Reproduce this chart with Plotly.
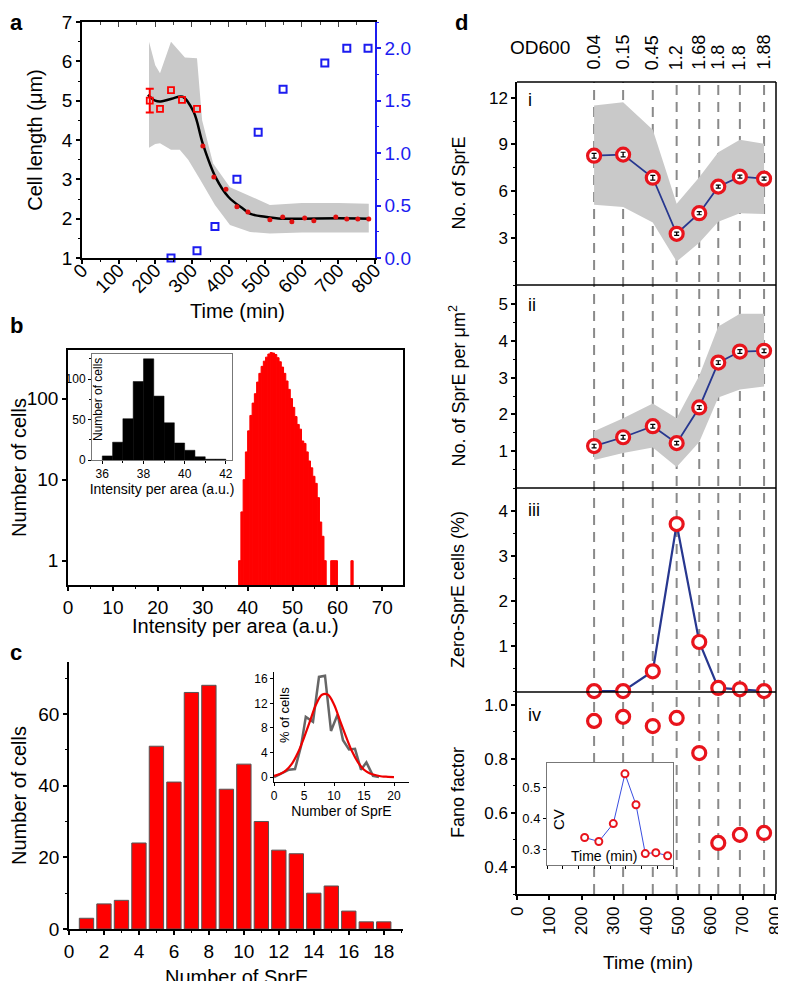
import plotly.graph_objects as go

# the page body keeps an 8 px margin, so the figure is drawn 8 px in from the window corner
PAD = 8
W, H = 786 - PAD, 989 - 2 * PAD


def fx(p):
    return (p - PAD) / W


def fy(p):
    return 1 - (p - PAD) / H


FONT = "Liberation Sans, Arial, sans-serif"
RED = "#ff0000"
NAVY = "#27378f"
BLUE = "#1c1cf0"
BAND = "#c9c9c9"

# ---------------- panel a
a_od_time = [243, 314, 363, 423, 481, 549, 663, 723, 781]
a_od = [0.0, 0.07, 0.3, 0.75, 1.2, 1.61, 1.86, 2.0, 2.0]
a_first_time = [185]
a_first_len = [5.0]
a_first_err = [0.3]
a_sq_time = [213, 243, 273, 314]
a_sq_len = [4.79, 5.27, 5.02, 4.79]
a_dot_time = [330, 360, 393, 423, 453, 513, 548, 573, 608, 633, 693, 723, 753, 783]
a_dot_len = [3.85, 3.06, 2.75, 2.3, 2.17, 1.97, 2.04, 1.92, 2.02, 1.95, 2.04, 1.99, 1.99, 1.99]
a_fit_time = [180, 200, 215, 245, 275, 305, 330, 365, 400, 440, 460, 500, 545, 600, 700, 783]
a_fit_len = [5.15, 5.0, 4.98, 5.05, 5.1, 4.71, 3.9, 3.05, 2.55, 2.25, 2.12, 2.05, 2.0, 2.0, 2.01, 2.0]
a_hi_time = [183, 200, 213, 243, 281, 314, 328, 358, 404, 440, 513, 600, 700, 783]
a_hi = [6.5, 5.9, 5.7, 6.5, 6.1, 6.08, 4.5, 3.4, 2.8, 2.65, 2.35, 2.4, 2.4, 2.38]
a_lo_time = [183, 200, 213, 243, 267, 290, 322, 363, 404, 459, 513, 600, 700, 783]
a_lo = [3.8, 3.9, 3.92, 3.75, 3.75, 3.5, 3.0, 2.35, 1.84, 1.66, 1.62, 1.65, 1.65, 1.65]

# ---------------- panel b
b_int = [38.25, 38.75, 39.25, 39.75, 40.25, 40.75, 41.25, 41.75, 42.25, 42.75,
         43.25, 43.75, 44.25, 44.75, 45.25, 45.75, 46.25, 46.75, 47.25, 47.75,
         48.25, 48.75, 49.25, 49.75, 50.25, 50.75, 51.25, 51.75, 52.25, 52.75,
         53.25, 53.75, 54.25, 54.75, 55.25, 55.75, 56.25, 56.75, 57.25,
         58.75, 59.25, 59.75, 63.25]
b_cells = [1, 4, 10, 22, 40, 62, 88, 115, 160, 205,
           250, 290, 325, 355, 370, 365, 350, 320, 285, 245,
           205, 165, 130, 100, 78, 60, 48, 42, 30, 28,
           22, 17, 14, 11, 9, 6, 3, 2, 1,
           1, 1, 1, 1]
b_in_int = [36.25, 36.75, 37.25, 37.75, 38.25, 38.75, 39.25, 39.75, 40.25, 40.75, 41.25, 41.75]
b_in_cells = [5, 22, 51, 97, 125, 79, 46, 21, 12, 4, 1, 1]

# ---------------- panel c
c_n = [1, 2, 3, 4, 5, 6, 7, 8, 9, 10, 11, 12, 13, 14, 15, 16, 17, 18]
c_cells = [3, 7, 8, 24, 51, 41, 66, 68, 39, 46, 30, 22, 21, 10, 12, 5, 2, 2]
c_grey_n = [0, 1.5, 2.5, 3.5, 4.5, 5.3, 6.5, 7.5, 8.5, 9.5, 10.6, 11.5, 12.5, 13.5, 14.5, 15.4, 16.5, 17.5]
c_grey_pct = [0, 0.8, 1.2, 1.3, 5.0, 9.8, 9.0, 16.3, 16.5, 7.5, 10.2, 6.0, 4.5, 4.6, 1.2, 2.4, 0.2, 0]
c_fit_n = [0, 1, 2, 3, 4, 5, 6, 7, 8, 9, 10, 11, 12, 13, 14, 15, 16, 17, 18, 19, 20]
c_fit_pct = [0.2, 0.5, 1.1, 2.2, 4.0, 6.4, 9.1, 11.8, 13.4, 13.4, 11.8, 9.2, 6.6, 4.2, 2.4, 1.2, 0.6, 0.3, 0.1, 0.05, 0]

# ---------------- panel d
d_time = [239, 329, 421, 495, 565, 624, 691, 766]
d_od = ["0.04", "0.15", "0.45", "1.2", "1.68", "1.8", "1.8", "1.88"]
i_mean = [8.28, 8.35, 6.87, 3.28, 4.6, 6.3, 6.94, 6.81]
i_err = [0.15, 0.15, 0.15, 0.1, 0.1, 0.1, 0.1, 0.1]
i_hi = [11.5, 11.7, 9.95, 5.2, 6.9, 8.5, 9.3, 9.05]
i_lo = [5.14, 5.0, 4.0, 1.5, 2.7, 4.05, 4.6, 4.55]
ii_mean = [1.14, 1.38, 1.68, 1.22, 2.19, 3.41, 3.71, 3.73]
ii_err = [0.05, 0.05, 0.05, 0.05, 0.05, 0.05, 0.05, 0.05]
ii_hi = [1.54, 1.9, 2.3, 1.9, 3.05, 4.39, 4.74, 4.74]
ii_lo = [0.76, 0.95, 1.1, 0.57, 1.25, 2.46, 2.68, 2.76]
iii_zero = [0.0, 0.0, 0.44, 3.71, 1.09, 0.07, 0.04, 0.0]
iv_fano = [0.941, 0.956, 0.922, 0.952, 0.822, 0.489, 0.519, 0.526]
iv_cv = [0.339, 0.326, 0.384, 0.545, 0.445, 0.287, 0.29, 0.28]

fig = go.Figure()

# ---- a
fig.add_trace(go.Scatter(x=a_hi_time + a_lo_time[::-1], y=a_hi + a_lo[::-1], fill="toself",
                         fillcolor=BAND, line=dict(width=0), mode="lines", xaxis="x", yaxis="y"))
fig.add_trace(go.Scatter(x=a_fit_time, y=a_fit_len, mode="lines", line=dict(color="black", width=2.5, shape="spline"),
                         xaxis="x", yaxis="y"))
fig.add_trace(go.Scatter(x=a_sq_time, y=a_sq_len, mode="markers", xaxis="x", yaxis="y",
                         marker=dict(symbol="square-open", size=6, color=RED, line=dict(width=1.8))))
fig.add_trace(go.Scatter(x=a_first_time, y=a_first_len, mode="markers", xaxis="x", yaxis="y",
                         error_y=dict(array=a_first_err, color=RED, thickness=2, width=4),
                         marker=dict(symbol="square-open", size=6, color=RED, line=dict(width=1.8))))
fig.add_trace(go.Scatter(x=a_dot_time, y=a_dot_len, mode="markers", xaxis="x", yaxis="y",
                         marker=dict(size=5, color="#e01010")))
fig.add_trace(go.Scatter(x=a_od_time, y=a_od, mode="markers", xaxis="x", yaxis="y2", cliponaxis=False,
                         marker=dict(symbol="square-open", size=7, color=BLUE, line=dict(width=2))))
fig.add_trace(go.Scatter(x=[], y=[], xaxis="x2", yaxis="y"))

# ---- b
fig.add_trace(go.Bar(x=b_int, y=b_cells, width=0.5, marker=dict(color=RED, line=dict(color=RED, width=1)),
                     xaxis="x3", yaxis="y3"))
fig.add_trace(go.Bar(x=b_in_int, y=b_in_cells, width=0.5, marker=dict(color="black", line=dict(color="black", width=0.5)),
                     xaxis="x4", yaxis="y4"))

# ---- c
fig.add_trace(go.Bar(x=c_n, y=c_cells, width=0.82, marker=dict(color=RED, line=dict(color="#555555", width=1)),
                     xaxis="x5", yaxis="y5"))
fig.add_trace(go.Scatter(x=c_grey_n, y=c_grey_pct, mode="lines", line=dict(color="#666666", width=2.5),
                         xaxis="x6", yaxis="y6"))
fig.add_trace(go.Scatter(x=c_fit_n, y=c_fit_pct, mode="lines", line=dict(color="#ee0000", width=2.2, shape="spline"),
                         xaxis="x6", yaxis="y6"))

# ---- d
ring = dict(symbol="circle", size=13, color="white", line=dict(color="#e8141c", width=3.2))
fig.add_trace(go.Scatter(x=d_time + d_time[::-1], y=i_hi + i_lo[::-1], fill="toself", fillcolor=BAND,
                         line=dict(width=0), mode="lines", xaxis="x7", yaxis="y7"))
fig.add_trace(go.Scatter(x=d_time, y=i_mean, mode="lines+markers", line=dict(color=NAVY, width=1.8),
                         marker=ring, xaxis="x7", yaxis="y7", cliponaxis=False))
fig.add_trace(go.Scatter(x=d_time, y=i_mean, mode="markers", marker=dict(size=1, color="black"),
                         error_y=dict(array=i_err, color="black", thickness=1.2, width=2.5), xaxis="x7", yaxis="y7"))
fig.add_trace(go.Scatter(x=d_time + d_time[::-1], y=ii_hi + ii_lo[::-1], fill="toself", fillcolor=BAND,
                         line=dict(width=0), mode="lines", xaxis="x7", yaxis="y8"))
fig.add_trace(go.Scatter(x=d_time, y=ii_mean, mode="lines+markers", line=dict(color=NAVY, width=1.8),
                         marker=ring, xaxis="x7", yaxis="y8", cliponaxis=False))
fig.add_trace(go.Scatter(x=d_time, y=ii_mean, mode="markers", marker=dict(size=1, color="black"),
                         error_y=dict(array=ii_err, color="black", thickness=1.2, width=2.5), xaxis="x7", yaxis="y8"))
fig.add_trace(go.Scatter(x=d_time, y=iii_zero, mode="lines+markers", line=dict(color=NAVY, width=2.2),
                         marker=ring, xaxis="x7", yaxis="y9", cliponaxis=False))
fig.add_trace(go.Scatter(x=d_time, y=iv_fano, mode="markers", marker=ring, xaxis="x7", yaxis="y10",
                         cliponaxis=False))
fig.add_trace(go.Scatter(x=d_time, y=iv_cv, mode="lines+markers", line=dict(color="#3a4ee0", width=1),
                         marker=dict(symbol="circle", size=7, color="white", line=dict(color="#e8141c", width=2)),
                         xaxis="x8", yaxis="y11", cliponaxis=False))

TF = dict(size=19, color="black", family=FONT)
ax = dict(showline=True, linecolor="black", linewidth=1.5, ticks="outside", tickcolor="black",
          ticklen=4, tickwidth=1.5, showgrid=False, zeroline=False, tickfont=TF, automargin=False)
small = dict(showline=True, linecolor="black", linewidth=1, ticks="outside", tickcolor="black",
             ticklen=3, tickwidth=1, showgrid=False, zeroline=False, automargin=False,
             tickfont=dict(size=12, color="black", family=FONT))
minor = dict(ticks="outside", ticklen=2.5, tickcolor="black", tickwidth=1.2)
T20 = dict(size=20)

dtop, d1, d2, d3, dbot = 82, 285, 488, 692, 894
dx0, dx1 = 517, 776
DF = dict(size=17, color="black", family=FONT)

fig.update_layout(
    width=W, height=H, margin=dict(l=0, r=0, t=0, b=0, autoexpand=False), showlegend=False,
    paper_bgcolor="white", plot_bgcolor="white", font=dict(family=FONT, color="black"),
    # a
    xaxis=dict(ax, domain=[fx(82), fx(375)], anchor="y", range=[0, 800], dtick=100, tickangle=-45,
               ticklabelstandoff=-12, minor=dict(minor, dtick=50)),
    xaxis2=dict(domain=[fx(82), fx(375)], anchor="y", overlaying="x", side="top", range=[0, 800],
                showline=True, linecolor="black", linewidth=1.5, ticks="inside", ticklen=5, tickwidth=1.2,
                dtick=100, showticklabels=False, showgrid=False, zeroline=False, automargin=False,
                minor=dict(ticks="inside", ticklen=3, dtick=50)),
    yaxis=dict(ax, domain=[fy(258), fy(22)], anchor="x", range=[1, 7], dtick=1,
               minor=dict(minor, dtick=0.5), title=dict(text="Cell length (μm)", font=T20, standoff=14)),
    yaxis2=dict(ax, domain=[fy(258), fy(22)], anchor="x", overlaying="y", side="right", range=[0, 2.25],
                dtick=0.5, tickformat=".1f", linecolor=BLUE, tickcolor=BLUE,
                tickfont=dict(size=19, color=BLUE, family=FONT), minor=dict(minor, dtick=0.25, tickcolor=BLUE)),
    # b
    xaxis3=dict(ax, domain=[fx(68), fx(403)], anchor="y3", range=[0, 74.6], dtick=10, mirror=True,
                minor=dict(minor, dtick=5)),
    yaxis3=dict(ax, domain=[fy(585), fy(350)], anchor="x3", type="log", range=[-0.3, 2.6], mirror=True,
                tickvals=[1, 10, 100], ticktext=["1", "10", "100"],
                title=dict(text="Number of cells", font=T20, standoff=6)),
    xaxis4=dict(small, domain=[fx(92), fx(232)], anchor="y4", range=[35.5, 42.3], dtick=2, mirror=True,
                linecolor="#777777", minor=dict(ticks="outside", ticklen=2, dtick=1, tickcolor="black"),
                title=dict(text="Intensity per area (a.u.)", font=dict(size=14), standoff=2)),
    yaxis4=dict(small, domain=[fy(460), fy(354)], anchor="x4", range=[0, 131], dtick=50, mirror=True,
                linecolor="#777777", minor=dict(ticks="outside", ticklen=2, dtick=25, tickcolor="black")),
    # c
    xaxis5=dict(ax, domain=[fx(69), fx(403)], anchor="y5", range=[0, 19.1], dtick=2,
                minor=dict(minor, dtick=1)),
    yaxis5=dict(ax, domain=[fy(929), fy(662)], anchor="x5", range=[0, 74.5], dtick=20,
                minor=dict(minor, dtick=10), title=dict(text="Number of cells", font=T20, standoff=14)),
    xaxis6=dict(small, domain=[fx(274), fx(409)], anchor="y6", range=[0, 22.5], dtick=5,
                title=dict(text="Number of SprE", font=dict(size=14), standoff=3)),
    yaxis6=dict(small, domain=[fy(782), fy(672)], anchor="x6", range=[-0.8, 17.1], dtick=4),
    # d
    xaxis7=dict(ax, domain=[fx(dx0), fx(dx1)], anchor="y10", range=[0, 803], dtick=100, tickangle=-90,
                tickfont=DF),
    yaxis7=dict(ax, domain=[fy(d1), fy(dtop)], anchor="x7", range=[0, 13.0], tickvals=[3, 6, 9, 12],
                tickfont=DF, minor=dict(minor, dtick=1.5)),
    yaxis8=dict(ax, domain=[fy(d2), fy(d1)], anchor="x7", range=[0, 5.52], tickvals=[1, 2, 3, 4, 5],
                tickfont=DF, minor=dict(minor, dtick=0.5)),
    yaxis9=dict(ax, domain=[fy(d3), fy(d2)], anchor="x7", range=[-0.02, 4.51], tickvals=[1, 2, 3, 4],
                tickfont=DF, minor=dict(minor, dtick=0.5)),
    yaxis10=dict(ax, domain=[fy(dbot), fy(d3)], anchor="x7", range=[0.3, 1.048], tickvals=[0.4, 0.6, 0.8, 1.0],
                 tickfont=DF, tickformat=".1f", minor=dict(minor, dtick=0.1)),
    xaxis8=dict(small, domain=[fx(547), fx(673)], anchor="y11", range=[0, 800], dtick=100, mirror=True,
                linecolor="#777777", showticklabels=False, ticklen=3),
    yaxis11=dict(small, domain=[fy(865), fy(763)], anchor="x8", range=[0.25, 0.58], dtick=0.1, mirror=True,
                 linecolor="#777777", tickfont=dict(size=13, color="black", family=FONT)),
)

shapes = []
# frame of panel d
for yy in [dtop, d1, d2, d3]:
    shapes.append(dict(type="line", xref="paper", yref="paper", x0=fx(dx0), x1=fx(dx1), y0=fy(yy), y1=fy(yy),
                       line=dict(color="black", width=1.5)))
shapes.append(dict(type="line", xref="paper", yref="paper", x0=fx(dx1), x1=fx(dx1), y0=fy(dbot), y1=fy(dtop),
                   line=dict(color="black", width=1.5)))
# dashed time guides, broken around the CV inset
dash = dict(color="#8a8a8a", width=2, dash="10px,7px")
for t in d_time:
    t_px = dx0 + t * (dx1 - dx0) / 803
    if 547 <= t_px <= 673:
        spans = [(dtop, 763), (865, dbot)]
    else:
        spans = [(dtop, dbot)]
    for top, bot in spans:
        shapes.append(dict(type="line", xref="x7", yref="paper", x0=t, x1=t, y0=fy(bot), y1=fy(top),
                           line=dash, layer="below"))
fig.update_layout(shapes=shapes)


def note(text, xp, yp, size, angle=0, **kw):
    return dict(text=text, x=fx(xp), y=fy(yp), xref="paper", yref="paper", showarrow=False,
                textangle=angle, xanchor=kw.get("xanchor", "center"), yanchor=kw.get("yanchor", "middle"),
                font=dict(size=size, color="black"))


ann = []
for lab, xp, yp in [("a", 8, 8), ("d", 453, 8)]:
    ann.append(note("<b>%s</b>" % lab, xp, yp, 22, xanchor="left", yanchor="top"))
for lab, xp, yp in [("b", 8, 325), ("c", 8, 652)]:
    ann.append(note("<b>%s</b>" % lab, xp, yp, 22, xanchor="left"))
for lab, yp in [("i", 100), ("ii", 305), ("iii", 510), ("iv", 715)]:
    ann.append(note(lab, 526, yp, 18, xanchor="left"))
for t, od in zip(d_time, d_od):
    ann.append(dict(text=od, x=t, xref="x7", y=fy(72), yref="paper", showarrow=False, textangle=-90,
                    xanchor="center", yanchor="bottom", font=dict(size=18)))
ann.append(note("OD600", 540, 48, 19))
# axis titles placed where the original has them
ann.append(note("Time (min)", 237, 311, 20))
ann.append(note("Intensity per area (a.u.)", 235, 626, 20))
ann.append(note("Number of SprE", 236, 977, 20))
ann.append(note("Time (min)", 648, 962, 19))
ann.append(note("No. of SprE", 458, (dtop + d1) / 2, 18, -90))
ann.append(note("No. of SprE per μm<sup>2</sup>", 458, (d1 + d2) / 2, 18, -90))
ann.append(note("Zero-SprE cells (%)", 458, (d2 + d3) / 2, 18, -90))
ann.append(note("Fano factor", 458, (d3 + dbot) / 2, 18, -90))
# inset titles drawn inside their frames, as in the original
ann.append(note("Number of cells", 98, 400, 12, -90))
ann.append(note("% of cells", 284, 715, 13, -90))
ann.append(note("CV", 558, 820, 15, -90))
ann.append(note("Time (min)", 604, 856, 14))
fig.update_layout(annotations=ann)

fig.write_html("out.html")
